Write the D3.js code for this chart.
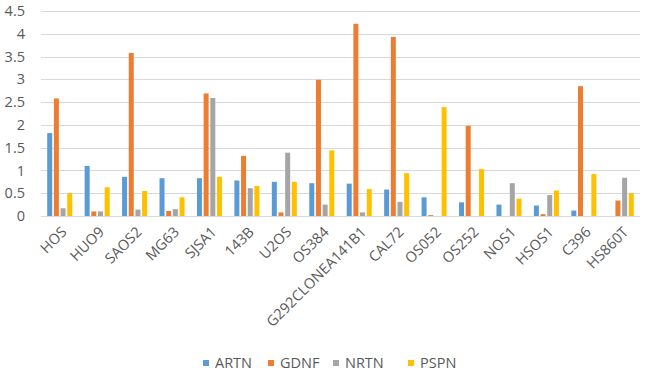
<!DOCTYPE html>
<html>
<head>
<meta charset="utf-8">
<script src="https://cdn.jsdelivr.net/npm/d3@7"></script>
<style>
  body { margin: 0; background: #fff; }
  svg text { font-family: "Open Sans", sans-serif; fill: #595959; }
</style>
</head>
<body>
<svg id="chart" width="646" height="376"></svg>
<script>
// cell lines along the x axis
const cellLines = ['HOS', 'HUO9', 'SAOS2', 'MG63', 'SJSA1', '143B', 'U2OS', 'OS384',
    'G292CLONEA141B1', 'CAL72', 'OS052', 'OS252', 'NOS1', 'HSOS1', 'C396', 'HS860T'];

const seriesNames = ['ARTN', 'GDNF', 'NRTN', 'PSPN'];

const artn = [1.82, 1.10, 0.86, 0.83, 0.83, 0.78, 0.75, 0.72, 0.71, 0.58, 0.41, 0.30, 0.25, 0.23, 0.12, 0];
const gdnf = [2.58, 0.10, 3.58, 0.11, 2.69, 1.32, 0.08, 2.99, 4.22, 3.93, 0.02, 1.98, 0, 0.04, 2.85, 0.34];
const nrtn = [0.17, 0.10, 0.14, 0.15, 2.59, 0.61, 1.39, 0.25, 0.08, 0.31, 0, 0, 0.72, 0.46, 0, 0.84];
const pspn = [0.50, 0.63, 0.55, 0.41, 0.86, 0.66, 0.75, 1.44, 0.59, 0.94, 2.39, 1.03, 0.38, 0.56, 0.92, 0.50];

const yTicks = [0, 0.5, 1, 1.5, 2, 2.5, 3, 3.5, 4, 4.5];

const colors = ['#5B9BD5', '#ED7D31', '#A5A5A5', '#FFC000'];

const seriesValues = [artn, gdnf, nrtn, pspn];
const rows = cellLines.map((name, i) => ({
    name: name,
    values: seriesNames.map((s, j) => ({ key: s, value: seriesValues[j][i] }))
}));

const svg = d3.select('#chart');
const plotLeft = 41, plotRight = 640, plotTop = 11, plotBottom = 216;

const x0 = d3.scaleBand()
    .domain(cellLines)
    .range([plotLeft, plotRight])
    .paddingInner(0.287)
    .paddingOuter(0.1435);

const x1 = d3.scaleBand()
    .domain(seriesNames)
    .range([0, x0.bandwidth()])
    .paddingInner(0.25)
    .paddingOuter(0.125);

const y = d3.scaleLinear().domain([0, 4.5]).range([plotBottom, plotTop]);

const color = d3.scaleOrdinal().domain(seriesNames).range(colors);

// gridlines
svg.append('g')
    .selectAll('line')
    .data(yTicks)
    .join('line')
    .attr('x1', plotLeft)
    .attr('x2', plotRight)
    .attr('y1', d => Math.round(y(d)) + 0.5)
    .attr('y2', d => Math.round(y(d)) + 0.5)
    .attr('stroke', '#d9d9d9')
    .attr('stroke-width', 1.2);

// y axis labels
const yAxis = svg.append('g')
    .attr('transform', `translate(${plotLeft},0)`)
    .call(d3.axisLeft(y).tickValues(yTicks).tickSize(0).tickPadding(16).tickFormat(d3.format('')));
yAxis.select('.domain').remove();
yAxis.selectAll('text')
    .style('font-size', '14.5px')
    .style('fill', '#595959');

// bars
svg.append('g')
    .selectAll('g')
    .data(rows)
    .join('g')
    .attr('transform', d => `translate(${x0(d.name)},0)`)
    .selectAll('rect')
    .data(d => d.values)
    .join('rect')
    .attr('x', d => x1(d.key))
    .attr('width', x1.bandwidth())
    .attr('y', d => y(d.value))
    .attr('height', d => y(0) - y(d.value))
    .attr('fill', d => color(d.key));

// x axis labels, rotated
const xAxis = svg.append('g')
    .attr('transform', `translate(0,${plotBottom})`)
    .call(d3.axisBottom(x0).tickSize(0).tickPadding(0));
xAxis.select('.domain').remove();
xAxis.selectAll('text')
    .style('font-size', '14.5px')
    .style('fill', '#595959')
    .attr('text-anchor', 'end')
    .attr('dy', null)
    .attr('y', 0)
    .attr('transform', 'translate(8,17) rotate(-45)');

// legend
const legendX = [203, 268, 333, 408];
const legend = svg.append('g')
    .selectAll('g')
    .data(seriesNames)
    .join('g')
    .attr('transform', (d, i) => `translate(${legendX[i]},360)`);

legend.append('rect')
    .attr('width', 6)
    .attr('height', 6)
    .attr('fill', d => color(d));

legend.append('text')
    .attr('x', 12)
    .attr('y', 3)
    .attr('dy', '0.35em')
    .style('font-size', '14.5px')
    .text(d => d);
</script>
</body>
</html>
